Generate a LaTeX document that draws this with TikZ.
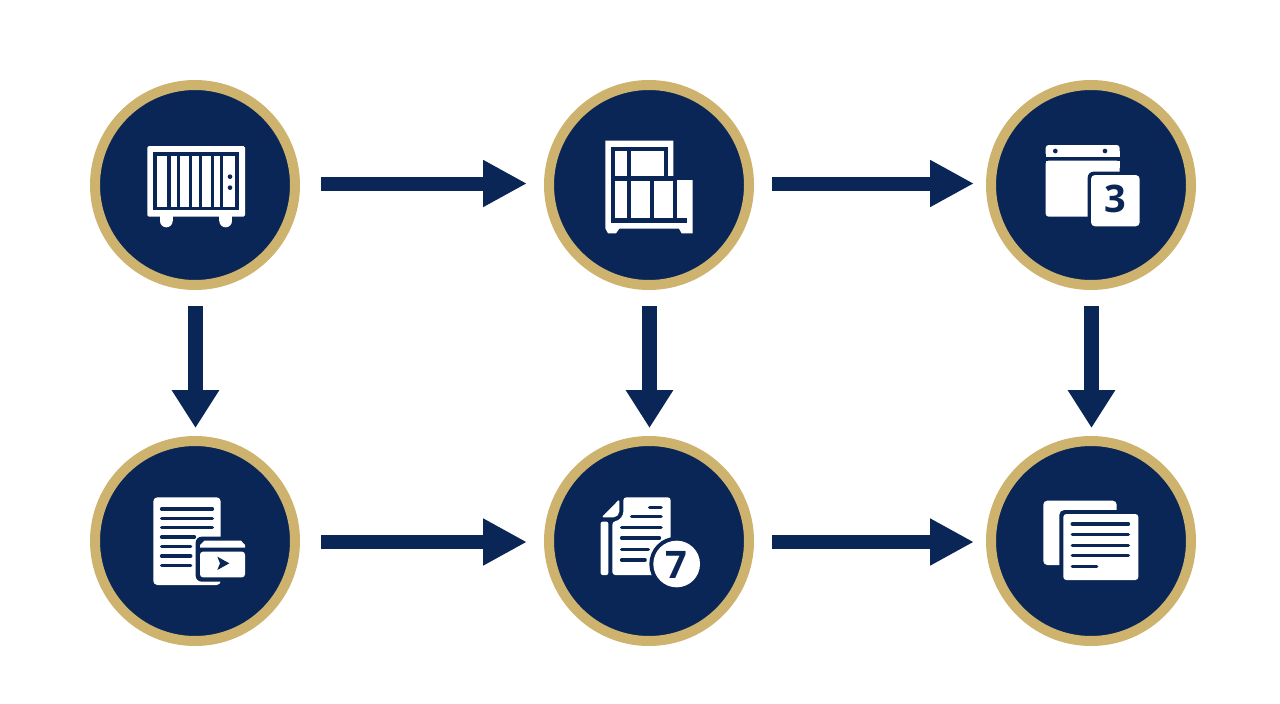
\documentclass[tikz,border=0pt]{standalone}
\usepackage{fontspec}
\setmainfont{Open Sans}
\usetikzlibrary{arrows.meta}
\definecolor{navy}{HTML}{0A2656}
\definecolor{gold}{HTML}{CEB36E}
\tikzset{
  hub/.style={circle,draw=gold,fill=navy,line width=10pt,minimum size=200pt,inner sep=0pt},
  hflow/.style={draw=navy,line width=14pt,-{Triangle[length=44pt,width=44pt]}},
  vflow/.style={draw=navy,line width=15pt,-{Triangle[length=38pt,width=45pt]}},
  icon/.style={x=0.33333pt,y=-0.33333pt},
  wh/.style={fill=white,draw=none},
  dk/.style={fill=navy,draw=none},
  txtline/.style={draw=navy,line width=3.6pt,line cap=round},
  digit/.style={text=navy,font=\fontsize{38}{38}\selectfont\bfseries,inner sep=0pt}
}
\begin{document}
\begin{tikzpicture}[x=1pt,y=-1pt]
\useasboundingbox[fill=white] (0,0) rectangle (1280,704);
\node[hub] (a) at (195,185) {};
\node[hub] (b) at (649,185) {};
\node[hub] (c) at (1091,185) {};
\node[hub] (d) at (195,541) {};
\node[hub] (e) at (649,541) {};
\node[hub] (f) at (1091,541) {};
% connectors
\draw[hflow,shorten <=21pt,shorten >=17pt] ([yshift=1.5pt]a.east) -- ([yshift=1.5pt]b.west);
\draw[hflow,shorten <=18pt,shorten >=12pt] ([yshift=1.5pt]b.east) -- ([yshift=1.5pt]c.west);
\draw[hflow,shorten <=21pt,shorten >=17pt] ([yshift=-1pt]d.east) -- ([yshift=-1pt]e.west);
\draw[hflow,shorten <=18pt,shorten >=12pt] ([yshift=-1pt]e.east) -- ([yshift=-1pt]f.west);
\draw[vflow,shorten <=16pt,shorten >=8pt] ([xshift=.5pt]a.south) -- ([xshift=.5pt]d.north);
\draw[vflow,shorten <=16pt,shorten >=8pt] ([xshift=.5pt]b.south) -- ([xshift=.5pt]e.north);
\draw[vflow,shorten <=16pt,shorten >=8pt] ([xshift=.5pt]c.south) -- ([xshift=.5pt]f.north);
% icon 1
\begin{scope}[shift={(120,120)},icon]
\fill[wh] (120,280) rectangle (158,303);
\fill[wh] (139,303) circle (19);
\fill[wh] (298,280) rectangle (336,303);
\fill[wh] (317,303) circle (19);
\fill[wh,rounded corners=1.5pt] (82,78) rectangle (375,290);
\fill[dk] (98,97) rectangle (358,270);
\foreach \l/\r in {110/140,152/170,180/206,217/236,247/272,283/300,310/345}
  \fill[wh] (\l,107) rectangle (\r,260);
\fill[dk] (330,170) circle (7);
\fill[dk] (330,203) circle (7);
\end{scope}
% icon 2
\begin{scope}[shift={(580,120)},icon]
\fill[wh] (76,62) -- (280,62) -- (280,180) -- (338,180) -- (338,340) -- (305,340) -- (297,326) -- (118,326) -- (108,340) -- (84,340) -- (76,325) -- cycle;
\fill[dk] (94,80) rectangle (265,170);
\fill[dk] (94,168) rectangle (290,182);
\fill[dk] (94,180) rectangle (290,308);
\fill[dk] (285,295) rectangle (320,308);
\fill[wh] (106,92) rectangle (140,168);
\fill[wh] (152,92) rectangle (252,168);
\foreach \l/\r in {106/140,152/210,222/278}
  \fill[wh] (\l,182) rectangle (\r,295);
\end{scope}
% icon 3
\begin{scope}[shift={(1025,125)},icon]
\fill[wh,rounded corners=3pt] (62,60) -- (284,60) -- (284,95) -- (62,95) -- cycle;
\fill[wh] (62,78) rectangle (284,95);
\fill[dk] (91,78) circle (7);
\fill[dk] (240,78) circle (7);
\fill[wh,rounded corners=3pt] (62,107) rectangle (284,275);
\fill[wh] (62,107) rectangle (284,130);
\fill[dk,rounded corners=6pt] (188,140) rectangle (354,314);
\fill[wh,rounded corners=4pt] (198,150) rectangle (344,304);
\node[digit] (three) at (270,223) {3};
\end{scope}
% icon 4
\begin{scope}[shift={(135,480)},icon]
\fill[wh,rounded corners=4pt] (55,52) rectangle (257,315);
\foreach \yy/\r in {87/232,115/232,143/232,171/178,199/167,228/167,257/167}
  \draw[txtline] (80,\yy) -- (\r,\yy);
\fill[dk,rounded corners=6pt] (182,170) rectangle (342,305);
\fill[wh] (195,203) -- (195,195) -- (208,182) -- (318,182) -- (330,195) -- (330,203) -- cycle;
\fill[wh,rounded corners=3pt] (195,215) rectangle (330,292);
\fill[dk] (247,230) -- (283,250) -- (247,270) -- (255,250) -- cycle;
\end{scope}
% icon 5
\begin{scope}[shift={(585,480)},icon]
\fill[wh,rounded corners=2pt] (47,125) rectangle (70,285);
\fill[wh,rounded corners=2pt] (50,112) -- (103,58) -- (103,100) -- (92,112) -- cycle;
\fill[wh,rounded corners=3pt] (115,52) -- (257,52) -- (257,285) -- (82,285) -- (82,125) -- (100,122) -- (115,105) -- cycle;
\foreach \l/\r/\yy in {194/228/82,140/228/110,110/228/142,110/223/174,110/190/208,110/180/240}
  \draw[txtline] (\l,\yy) -- (\r,\yy);
\fill[dk] (275,252) circle (82);
\fill[wh] (275,252) circle (70);
\node[digit] (seven) at (275,255) {7};
\end{scope}
% icon 6
\begin{scope}[shift={(1025,485)},icon]
\fill[wh,rounded corners=4pt] (55,47) rectangle (275,240);
\fill[dk,rounded corners=5pt] (103,75) rectangle (352,297);
\fill[wh,rounded corners=3pt] (115,87) rectangle (340,285);
\foreach \r/\yy in {310/117,310/149,310/181,310/212,215/245}
  \draw[txtline] (142,\yy) -- (\r,\yy);
\end{scope}
\end{tikzpicture}
\end{document}
